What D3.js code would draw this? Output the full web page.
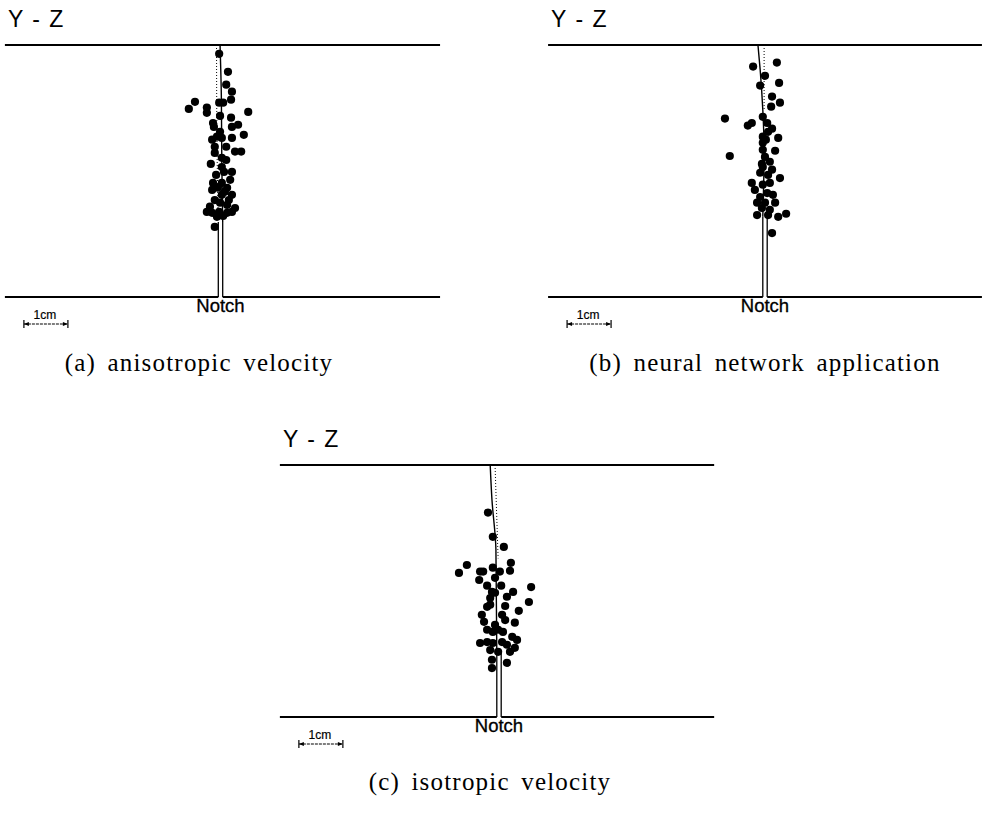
<!DOCTYPE html>
<html>
<head>
<meta charset="utf-8">
<script src="https://cdn.jsdelivr.net/npm/d3@7"></script>
<style>
  body { margin: 0; background: #fff; }
  svg { display: block; }
</style>
</head>
<body>
<svg id="drawing_region"></svg>
<script>
// all positions in cm: [Y, Z], Y measured from the notch, Z from the lower edge
const panelTitles = ['Y - Z', 'Y - Z', 'Y - Z'];
const captions = ['(a) anisotropic velocity', '(b) neural network application', '(c) isotropic velocity'];
const notchLabel = 'Notch';
const scaleLabel = '1cm';
const notchDepth = [1.70, 1.82, 1.48];

const anisoEvents = [
  [-0.03, 5.52], [0.17, 5.11], [0.13, 4.82], [0.26, 4.66], [0.24, 4.48], [-0.58, 4.43], [-0.72, 4.27],
  [-0.31, 4.30], [-0.31, 4.18], [-0.03, 4.41], [0.06, 4.41], [0.63, 4.20], [-0.01, 4.11], [0.24, 4.07],
  [-0.17, 3.95], [0.26, 3.86], [-0.15, 3.86], [0.40, 3.91], [-0.01, 3.75], [-0.08, 3.64], [0.03, 3.61],
  [0.26, 3.61], [0.53, 3.68], [-0.19, 3.57], [-0.13, 3.41], [0.13, 3.41], [0.33, 3.30], [0.47, 3.30],
  [-0.13, 3.27], [0.03, 3.16], [0.13, 3.11], [-0.22, 3.02], [0.03, 2.95], [0.26, 2.84], [0.08, 2.84],
  [-0.10, 2.77], [0.22, 2.66], [-0.17, 2.59], [0.03, 2.59], [-0.06, 2.48], [0.15, 2.48], [-0.19, 2.43],
  [0.10, 2.39], [0.26, 2.32], [0.03, 2.32], [-0.13, 2.20], [0.19, 2.20], [-0.01, 2.14], [0.15, 2.09],
  [-0.24, 2.05], [0.33, 2.02], [-0.31, 1.93], [-0.19, 1.91], [-0.03, 1.93], [0.15, 1.91], [0.26, 1.93],
  [0.06, 1.84], [-0.08, 1.82], [-0.13, 1.59]
];
const neuralEvents = [
  [0.27, 5.32], [-0.27, 5.23], [0.00, 5.02], [-0.11, 4.80], [0.32, 4.86], [0.16, 4.55], [0.34, 4.41],
  [0.14, 4.32], [-0.91, 4.05], [-0.39, 3.89], [-0.30, 3.95], [-0.05, 4.09], [0.05, 3.95], [0.16, 3.82],
  [-0.05, 3.64], [0.07, 3.75], [0.30, 3.61], [0.02, 3.57], [-0.05, 3.50], [0.23, 3.32], [-0.05, 3.34],
  [0.00, 3.18], [-0.80, 3.20], [0.11, 3.07], [-0.07, 3.02], [-0.05, 2.95], [0.16, 2.89], [-0.11, 2.82],
  [0.07, 2.77], [0.34, 2.70], [-0.30, 2.59], [-0.05, 2.55], [0.11, 2.59], [-0.23, 2.43], [0.05, 2.36],
  [0.18, 2.32], [-0.11, 2.27], [-0.18, 2.14], [0.00, 2.14], [0.23, 2.14], [-0.07, 2.02], [0.11, 1.98],
  [-0.18, 1.86], [0.07, 1.86], [0.30, 1.82], [0.48, 1.89], [0.16, 1.45]
];
const isoEvents = [
  [-0.25, 4.64], [-0.14, 4.09], [0.11, 3.86], [-0.73, 3.45], [-0.91, 3.27], [-0.43, 3.30], [-0.36, 3.30],
  [-0.14, 3.39], [0.02, 3.30], [0.27, 3.50], [0.25, 3.32], [-0.45, 3.11], [-0.09, 3.16], [-0.27, 2.98],
  [0.05, 2.98], [0.73, 2.95], [-0.16, 2.84], [-0.09, 2.82], [0.32, 2.84], [0.18, 2.73], [-0.20, 2.70],
  [-0.27, 2.50], [-0.20, 2.55], [0.14, 2.52], [0.68, 2.61], [0.45, 2.41], [-0.39, 2.32], [0.07, 2.32],
  [0.14, 2.20], [-0.34, 2.16], [0.36, 2.14], [-0.09, 2.09], [-0.27, 1.98], [-0.14, 1.93], [-0.02, 1.98],
  [0.09, 1.93], [0.30, 1.82], [0.41, 1.75], [-0.43, 1.68], [-0.27, 1.70], [-0.14, 1.68], [0.07, 1.70],
  [0.18, 1.64], [-0.20, 1.52], [-0.02, 1.48], [0.25, 1.48], [0.36, 1.57], [-0.16, 1.30], [0.18, 1.23],
  [-0.16, 1.11]
];

// crack traces (solid = estimated path, dotted = reference path)
const anisoCrack = [[-0.01, 5.72], [0.02, 4.5], [0.03, 3.0], [0.05, 1.70]];
const anisoDotted = [[-0.09, 5.72], [-0.08, 3.5], [-0.05, 1.70]];
const neuralCrack = [[-0.16, 5.72], [-0.11, 5.16], [-0.05, 4.25], [-0.02, 3.34], [-0.05, 1.82]];
const neuralDotted = [[-0.02, 5.72], [-0.02, 4.25]];
const isoCrack = [[-0.20, 5.72], [-0.16, 4.93], [-0.07, 3.8], [-0.05, 1.48]];
const isoDotted = [[-0.09, 5.72], [-0.02, 3.6]];

const svg = d3.select('#drawing_region')
  .attr('width', 982)
  .attr('height', 813);

class CrackPanel {
  constructor(config, data) {
    this.config = config;
    this.data = data;
    this.init();
  }
  init() {
    const c = this.config;
    this.chart = svg.append('g');
    this.xscale = d3.scaleLinear().domain([-5, 5]).range([c.cx - 220, c.cx + 220]);
    this.yscale = d3.scaleLinear().domain([0, 5.72]).range([c.bottom, c.bottom - 252]);
  }
  render() {
    const c = this.config, d = this.data;
    const x = this.xscale, y = this.yscale;
    const w = 0.05;
    const H = 5.72;
    const black = '#000';

    // specimen edges, lower edge broken by the notch
    const edges = [
      [[c.left, H], [c.right, H]],
      [[c.left, 0], [-w, 0]],
      [[w, 0], [c.right, 0]]
    ];
    this.chart.selectAll('.edge').data(edges).join('line')
      .attr('class', 'edge')
      .attr('x1', e => x(e[0][0])).attr('y1', e => y(e[0][1]))
      .attr('x2', e => x(e[1][0])).attr('y2', e => y(e[1][1]))
      .attr('stroke', black).attr('stroke-width', 2);

    // notch walls
    this.chart.selectAll('.wall').data([-w, w]).join('line')
      .attr('class', 'wall')
      .attr('x1', v => x(v)).attr('x2', v => x(v))
      .attr('y1', y(0)).attr('y2', y(d.depth))
      .attr('stroke', black).attr('stroke-width', 1.3);

    const line = d3.line().x(p => x(p[0])).y(p => y(p[1])).curve(d3.curveMonotoneY);

    this.chart.append('path')
      .attr('d', line(d.dotted))
      .attr('fill', 'none').attr('stroke', black)
      .attr('stroke-width', 1).attr('stroke-dasharray', '1,2');

    this.chart.append('path')
      .attr('d', line(d.crack))
      .attr('fill', 'none').attr('stroke', black).attr('stroke-width', 1.4);

    this.chart.selectAll('circle').data(d.events).join('circle')
      .attr('cx', p => x(p[0]))
      .attr('cy', p => y(p[1]))
      .attr('r', 4.1)
      .attr('fill', black);

    // title
    this.chart.append('text')
      .attr('x', x(c.left) + 3).attr('y', y(H) - 18)
      .attr('font-family', 'Liberation Sans, Arial, sans-serif')
      .attr('font-size', 23)
      .attr('letter-spacing', 1.5)
      .text(d.title);

    this.chart.append('text')
      .attr('x', x(0)).attr('y', y(0) + 15)
      .attr('text-anchor', 'middle')
      .attr('font-family', 'Liberation Sans, Arial, sans-serif')
      .attr('font-size', 18.5)
      .attr('stroke', black).attr('stroke-width', 0.3)
      .text(notchLabel);

    // 1 cm scale bar
    const sx0 = x(c.left) + 19, sx1 = sx0 + (x(1) - x(0)), sy = y(0) + 27;
    const bar = this.chart.append('g');
    bar.append('line')
      .attr('x1', sx0).attr('x2', sx1).attr('y1', sy).attr('y2', sy)
      .attr('stroke', black).attr('stroke-width', 1.2).attr('stroke-dasharray', '3,1');
    bar.selectAll('.tick').data([sx0, sx1]).join('line')
      .attr('class', 'tick')
      .attr('x1', v => v).attr('x2', v => v)
      .attr('y1', sy - 4).attr('y2', sy + 4)
      .attr('stroke', black).attr('stroke-width', 1.2);
    bar.selectAll('.head').data([[sx0, 1], [sx1, -1]]).join('path')
      .attr('class', 'head')
      .attr('d', h => `M${h[0]},${sy}L${h[0] + 5 * h[1]},${sy - 2}L${h[0] + 5 * h[1]},${sy + 2}Z`)
      .attr('fill', black);
    bar.append('text')
      .attr('x', (sx0 + sx1) / 2 - 1).attr('y', sy - 5)
      .attr('text-anchor', 'middle')
      .attr('font-family', 'Liberation Sans, Arial, sans-serif')
      .attr('font-size', 12)
      .attr('stroke', black).attr('stroke-width', 0.2)
      .text(scaleLabel);

    // caption
    this.chart.append('text')
      .attr('x', c.capX).attr('y', c.capY)
      .attr('text-anchor', 'middle')
      .attr('font-family', 'Liberation Serif, Times New Roman, serif')
      .attr('font-size', 25)
      .attr('letter-spacing', 1.2)
      .attr('word-spacing', 4)
      .text(d.caption);
  }
}

const panelConfigs = [
  { cx: 220.5, bottom: 297, left: -4.9, right: 4.99, capX: 199, capY: 371 },
  { cx: 765, bottom: 297, left: -4.93, right: 4.93, capX: 765, capY: 371 },
  { cx: 499, bottom: 717, left: -4.98, right: 4.89, capX: 490, capY: 790 }
];
const panelData = [
  { title: panelTitles[0], caption: captions[0], depth: notchDepth[0], events: anisoEvents, crack: anisoCrack, dotted: anisoDotted },
  { title: panelTitles[1], caption: captions[1], depth: notchDepth[1], events: neuralEvents, crack: neuralCrack, dotted: neuralDotted },
  { title: panelTitles[2], caption: captions[2], depth: notchDepth[2], events: isoEvents, crack: isoCrack, dotted: isoDotted }
];

panelConfigs.forEach((cfg, i) => {
  const panel = new CrackPanel(cfg, panelData[i]);
  panel.render();
});
</script>
</body>
</html>
